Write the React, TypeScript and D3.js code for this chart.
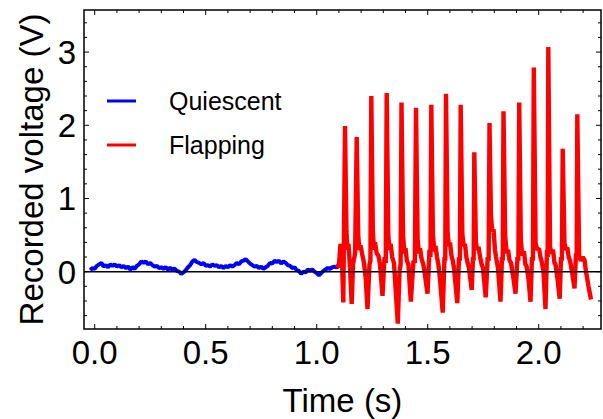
import React from "react";
import * as d3 from "d3";

const W = 603;
const H = 419;
const M = { left: 84, right: 2, top: 10, bottom: 90 };

const X_DOMAIN = [-0.0482, 2.2806];
const Y_DOMAIN = [-0.783, 3.575];

const xMajorTicks = [0, 0.5, 1, 1.5, 2];
const xTickLabels = ["0.0", "0.5", "1.0", "1.5", "2.0"];
const yMajorTicks = [0, 1, 2, 3];
const yTickLabels = ["0", "1", "2", "3"];

const seriesNames = ["Quiescent", "Flapping"];
const seriesColors = ["#0000ff", "#ff0000"];

// Quiescent: sampled every 0.01 s starting at -0.02 s
const quiescentStart = -0.02;
const quiescentStep = 0.01;
const quiescentValues = [
  0.02, 0.05, 0.04, 0.08, 0.10, 0.12, 0.07, 0.09, 0.06, 0.10,
  0.08, 0.10, 0.07, 0.09, 0.06, 0.08, 0.05, 0.07, 0.03, 0.06,
  0.04, 0.08, 0.10, 0.14, 0.12, 0.14, 0.10, 0.12, 0.09, 0.07,
  0.08, 0.05, 0.06, 0.04, 0.06, 0.03, 0.05, 0.03, 0.04, 0.01,
  0.00, -0.03, -0.01, 0.02, 0.06, 0.09, 0.14, 0.16, 0.13, 0.12,
  0.10, 0.12, 0.08, 0.09, 0.07, 0.10, 0.08, 0.09, 0.06, 0.08,
  0.05, 0.08, 0.06, 0.09, 0.07, 0.09, 0.12, 0.10, 0.14, 0.15,
  0.17, 0.14, 0.11, 0.09, 0.07, 0.08, 0.05, 0.07, 0.04, 0.06,
  0.08, 0.12, 0.11, 0.15, 0.13, 0.15, 0.11, 0.14, 0.12, 0.09,
  0.08, 0.05, 0.06, 0.02, 0.01, -0.03, 0.00, -0.01, 0.03, 0.01,
  0.03, 0.00, -0.02, -0.05, -0.02, 0.01, 0.03, 0.05, 0.04, 0.06,
  0.07, 0.06, 0.08,
];

// Flapping: one row per wing-beat cycle
const flappingTimes = [
  1.0892, 1.1005, 1.1072, 1.1140, 1.1198,
  1.1275, 1.1340, 1.1390, 1.1432, 1.1500, 1.1577, 1.1635, 1.1730,
  1.1802, 1.1870, 1.1920, 1.1975, 1.2041, 1.2131, 1.2210, 1.2288, 1.2378, 1.2420,
  1.2459, 1.2530, 1.2580, 1.2626, 1.2700, 1.2780, 1.2851, 1.2964, 1.3054, 1.3110,
  1.3153, 1.3225, 1.3280, 1.3330, 1.3400, 1.3480, 1.3527, 1.3653, 1.3730, 1.3780,
  1.3820, 1.3890, 1.3950, 1.4000, 1.4060, 1.4130, 1.4239, 1.4360, 1.4420,
  1.4473, 1.4545, 1.4600, 1.4653, 1.4720, 1.4800, 1.4856, 1.4991, 1.5081, 1.5125,
  1.5162, 1.5235, 1.5300, 1.5351, 1.5420, 1.5480, 1.5554, 1.5676, 1.5757, 1.5790,
  1.5824, 1.5895, 1.5950, 1.6005, 1.6070, 1.6130, 1.6185, 1.6333, 1.6410, 1.6450,
  1.6486, 1.6560, 1.6620, 1.6680, 1.6740, 1.6800, 1.6860, 1.6982, 1.7041, 1.7070,
  1.7099, 1.7170, 1.7230, 1.7288, 1.7360, 1.7430, 1.7491, 1.7613, 1.7703, 1.7745,
  1.7784, 1.7850, 1.7910, 1.7964, 1.8030, 1.8077, 1.8167, 1.8279, 1.8347, 1.8380,
  1.8414, 1.8490, 1.8560, 1.8617, 1.8690, 1.8752, 1.8865, 1.8955, 1.9045, 1.9085,
  1.9122, 1.9195, 1.9260, 1.9338, 1.9400, 1.9450, 1.9541, 1.9631, 1.9698, 1.9740,
  1.9779, 1.9860, 1.9930, 2.0014, 2.0080, 2.0126, 2.0216, 2.0306, 2.0374, 2.0405,
  2.0432, 2.0510, 2.0580, 2.0644, 2.0710, 2.0757, 2.0847, 2.0946, 2.1005, 2.1045,
  2.1081, 2.1160, 2.1230, 2.1290, 2.1350, 2.1410, 2.1500, 2.1613, 2.1680, 2.1710,
  2.1739, 2.1820, 2.1900, 2.1982, 2.2063, 2.2131, 2.2243, 2.2356,
];
const flappingValues = [
  0.06, 0.10, 0.38, 0.15, -0.42,
  1.99, 0.55, 0.30, 0.38, 0.05, -0.44, 0.10, 0.25,
  1.84, 0.50, 0.30, 0.36, 0.25, 0.12, -0.10, -0.51, 0.10, 0.15,
  2.40, 0.55, 0.30, 0.40, 0.25, 0.22, 0.10, -0.33, 0.20, 0.12,
  2.44, 0.50, 0.30, 0.38, 0.20, 0.12, -0.10, -0.71, 0.00, 0.10,
  2.31, 0.50, 0.25, 0.32, 0.15, 0.10, -0.41, 0.15, 0.12,
  2.24, 0.45, 0.25, 0.32, 0.18, 0.10, 0.00, -0.30, 0.30, 0.20,
  2.28, 0.50, 0.28, 0.35, 0.20, 0.10, -0.10, -0.56, 0.20, 0.15,
  2.43, 0.55, 0.35, 0.40, 0.22, 0.15, 0.05, -0.43, 0.20, 0.15,
  2.28, 0.52, 0.35, 0.38, 0.20, 0.12, 0.05, -0.25, 0.20, 0.15,
  1.63, 0.40, 0.30, 0.34, 0.20, 0.10, 0.05, -0.35, 0.20, 0.15,
  2.03, 0.75, 0.55, 0.58, 0.30, 0.20, 0.05, -0.41, 0.20, 0.15,
  2.19, 0.48, 0.25, 0.30, 0.15, 0.12, -0.10, -0.30, 0.20, 0.15,
  2.31, 0.43, 0.22, 0.28, 0.10, 0.08, -0.10, -0.41, 0.20, 0.15,
  2.79, 0.39, 0.30, 0.32, 0.20, 0.15, 0.00, -0.51, 0.30, 0.20,
  3.07, 0.34, 0.25, 0.30, 0.12, 0.10, -0.10, -0.37, 0.20, 0.15,
  1.68, 0.39, 0.30, 0.33, 0.20, 0.15, 0.00, -0.23, 0.25, 0.18,
  2.15, 0.22, 0.15, 0.20, 0.16, 0.00, -0.20, -0.38,
];

const FONT = "'Liberation Sans', Arial, sans-serif";

export default function App() {
  const x = d3.scaleLinear().domain(X_DOMAIN).range([M.left, W - M.right]);
  const y = d3.scaleLinear().domain(Y_DOMAIN).range([H - M.bottom, M.top]);
  const x0 = M.left, x1 = W - M.right, y0 = H - M.bottom, y1 = M.top;

  const quiescent: [number, number][] = quiescentValues.map((v, i) => [
    quiescentStart + i * quiescentStep,
    v,
  ]);
  const flapping: [number, number][] = flappingValues.map((v, i) => [
    flappingTimes[i],
    v,
  ]);

  const line = d3
    .line<[number, number]>()
    .x((d) => x(d[0]))
    .y((d) => y(d[1]));

  const xMinor = d3.range(0, 23).map((i) => i / 10).filter((t) => t <= X_DOMAIN[1]);
  const yMinor = d3.range(-3, 18).map((i) => i / 5).filter((v) => v >= Y_DOMAIN[0] && v <= Y_DOMAIN[1]);
  const isMajor = (v: number, step: number) => Math.abs(v / step - Math.round(v / step)) < 1e-6;

  const majLen = 5;
  const minLen = 3;

  return (
    <svg
      width={W}
      height={H}
      style={{ position: "absolute", left: 0, top: 0, background: "#fff" }}
      fontFamily={FONT}
    >
      <defs>
        <clipPath id="plotclip">
          <rect x={x0} y={y1} width={x1 - x0} height={y0 - y1} />
        </clipPath>
      </defs>
      <g clipPath="url(#plotclip)">
        <path
          d={line(quiescent) || ""}
          fill="none"
          stroke={seriesColors[0]}
          strokeWidth={4}
          strokeLinejoin="bevel"
        />
        <path
          d={line(flapping) || ""}
          fill="none"
          stroke={seriesColors[1]}
          strokeWidth={4.4}
          strokeLinejoin="bevel"
        />
        <line x1={x0} x2={x1} y1={y(0)} y2={y(0)} stroke="#000" strokeWidth={1.4} />
      </g>

      {/* ticks */}
      <g stroke="#000" strokeWidth={1}>
        {xMinor.map((t) => {
          const len = isMajor(t, 0.5) ? majLen : minLen;
          const px = x(t);
          return (
            <g key={"xt" + t}>
              <line x1={px} x2={px} y1={y0} y2={y0 - len} />
              <line x1={px} x2={px} y1={y1} y2={y1 + len} />
            </g>
          );
        })}
        {yMinor.map((v) => {
          const len = isMajor(v, 1) ? majLen : minLen;
          const py = y(v);
          return (
            <g key={"yt" + v}>
              <line x1={x0} x2={x0 + len} y1={py} y2={py} />
              <line x1={x1} x2={x1 - len} y1={py} y2={py} />
            </g>
          );
        })}
      </g>

      <rect
        x={x0}
        y={y1}
        width={x1 - x0}
        height={y0 - y1}
        fill="none"
        stroke="#000"
        strokeWidth={1.5}
      />

      {/* tick labels */}
      {xMajorTicks.map((t, i) => (
        <text key={"xl" + t} x={x(t)} y={364} textAnchor="middle" fontSize={33} fill="#000">
          {xTickLabels[i]}
        </text>
      ))}
      {yMajorTicks.map((v, i) => (
        <text
          key={"yl" + v}
          x={76}
          y={y(v) + 12}
          textAnchor="end"
          fontSize={33}
          fill="#000"
        >
          {yTickLabels[i]}
        </text>
      ))}

      {/* axis titles */}
      <text x={(x0 + x1) / 2} y={412} textAnchor="middle" fontSize={33} fill="#000">
        Time (s)
      </text>
      <text
        transform={`translate(43, ${(y0 + y1) / 2}) rotate(-90)`}
        textAnchor="middle"
        fontSize={33}
        fill="#000"
      >
        Recorded voltage (V)
      </text>

      {/* legend */}
      {seriesNames.map((name, i) => (
        <g key={name}>
          <line
            x1={107}
            x2={136}
            y1={101 + i * 44}
            y2={101 + i * 44}
            stroke={seriesColors[i]}
            strokeWidth={3}
          />
          <text x={169} y={110 + i * 44} fontSize={25} fill="#000">
            {name}
          </text>
        </g>
      ))}
    </svg>
  );
}
